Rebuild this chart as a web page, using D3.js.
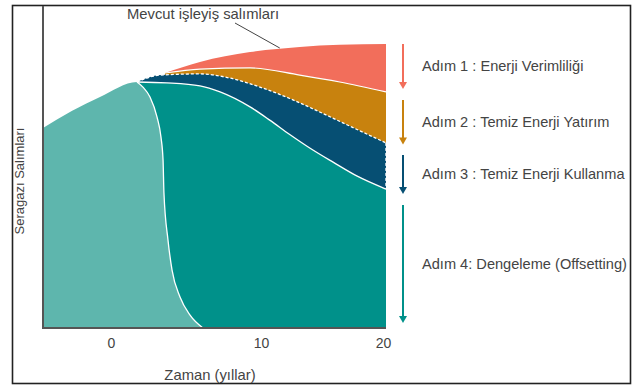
<!DOCTYPE html>
<html>
<head>
<meta charset="utf-8">
<script src="https://cdn.jsdelivr.net/npm/d3@7"></script>
<style>
  html, body { margin: 0; padding: 0; background: #fff; }
  svg { display: block; font-family: "Liberation Sans", Arial, sans-serif; }
</style>
</head>
<body>
<svg id="chart" width="636" height="387"></svg>
<script>
// Emission pathways (years, relative emission level 0–100)
const bauYears    = [-4.5, -2.6, -0.73, 1.73, 3.6, 5.93, 9.27, 13.1, 16.3, 20];
const bauValues   = [66.7, 72.3, 77.0, 82.0, 85.0, 88.7, 92.0, 93.7, 94.4, 94.7];

const effYears    = [3.6, 5.93, 9.27, 13.1, 16.3, 20];
const effValues   = [85.0, 86.3, 86.7, 84.3, 82.0, 78.7];

const investYears  = [1.73, 3.27, 5.93, 7.93, 9.93, 12.3, 14.7, 17.1, 20];
const investValues = [82.0, 84.3, 84.7, 83.3, 80.3, 76.5, 72.0, 67.3, 61.7];

const useYears    = [1.73, 3.73, 5.93, 7.27, 9.27, 10.7, 12.3, 13.9, 15.8, 17.7, 20];
const useValues   = [82.0, 81.7, 80.7, 78.7, 73.7, 69.3, 64.5, 60.0, 55.2, 50.6, 46.3];

const existYears  = [-4.5, -2.6, -0.73, 1.73, 2.13, 2.6, 3.07, 3.33, 3.47, 3.53, 3.8, 4.07, 4.6, 5.27, 6.13];
const existValues = [66.7, 72.3, 77.0, 82.0, 80.3, 77.0, 70.3, 63.7, 56.0, 45.0, 29.3, 19.3, 10.3, 4.3, 0];

const xTicks = [0, 10, 20];
const steps = [
  { label: "Adım 1 : Enerji Verimliliği",      color: "#F26E5B", from: 94.7, to: 80.0 },
  { label: "Adım 2 : Temiz Enerji Yatırım",    color: "#C8820E", from: 76.0, to: 61.5 },
  { label: "Adım 3 : Temiz Enerji Kullanma",   color: "#064F73", from: 57.7, to: 45.0 },
  { label: "Adım 4: Dengeleme (Offsetting)",   color: "#00918A", from: 41.0, to: 2.0 }
];

const svg = d3.select("#chart");

// time axis is compressed after year 10
const x = d3.scaleLinear().domain([-4.5, 0, 10, 20]).range([43, 111, 261, 386]);
const y = d3.scaleLinear().domain([0, 100]).range([328, 28]);

const pts = (xs, vs) => xs.map((d, i) => [d, vs[i]]);
const bau = pts(bauYears, bauValues);
const eff = pts(effYears, effValues);
const inv = pts(investYears, investValues);
const use = pts(useYears, useValues);
const exist = pts(existYears, existValues);

const area = d3.area().x(d => x(d[0])).y0(y(0)).y1(d => y(d[1])).curve(d3.curveMonotoneX);
const line = d3.line().x(d => x(d[0])).y(d => y(d[1])).curve(d3.curveMonotoneX);

// outer frame
svg.append("rect").attr("x", 12.5).attr("y", 5.5).attr("width", 618).attr("height", 378)
  .attr("fill", "none").attr("stroke", "#222").attr("stroke-width", 1.6);

const g = svg.append("g");
// layers painted back to front
g.append("path").datum(bau.filter(d => d[0] >= 3.6)).attr("d", area).attr("fill", "#F26E5B");
g.append("path").datum(eff).attr("d", area).attr("fill", "#C8820E");
g.append("path").datum(inv).attr("d", area).attr("fill", "#064F73");
g.append("path").datum(use).attr("d", area).attr("fill", "#00918A");
g.append("path").datum(exist).attr("d", area).attr("fill", "#5EB6AD");

// boundary lines
g.append("path").datum(eff).attr("d", line).attr("fill", "none").attr("stroke", "#fff").attr("stroke-width", 1.2);
g.append("path").datum(inv).attr("d", line).attr("fill", "none").attr("stroke", "#fff")
  .attr("stroke-width", 1.3).attr("stroke-dasharray", "3,2");
g.append("line").attr("x1", x(20) - 0.5).attr("x2", x(20) - 0.5)
  .attr("y1", y(investValues[investValues.length - 1])).attr("y2", y(useValues[useValues.length - 1]))
  .attr("stroke", "#fff").attr("stroke-width", 1).attr("stroke-dasharray", "3,2").attr("opacity", 0.7);
g.append("path").datum(use).attr("d", line).attr("fill", "none").attr("stroke", "#fff").attr("stroke-width", 1.3);
g.append("path").datum(exist.filter(d => d[0] >= 1.73)).attr("d", line).attr("fill", "none")
  .attr("stroke", "#fff").attr("stroke-width", 1.3);

// axes
svg.append("line").attr("x1", 43).attr("x2", 43).attr("y1", 6).attr("y2", 329)
  .attr("stroke", "#555").attr("stroke-width", 2);
svg.append("line").attr("x1", 42).attr("x2", x(20)).attr("y1", 328).attr("y2", 328)
  .attr("stroke", "#555").attr("stroke-width", 2);

const xAxis = d3.axisBottom(x).tickValues(xTicks).tickSize(0).tickPadding(0);
const ax = svg.append("g").attr("transform", "translate(0,338)").call(xAxis);
ax.select(".domain").remove();
ax.selectAll("text").attr("font-size", 14).attr("fill", "#444")
  .attr("font-family", "Liberation Sans, Arial, sans-serif")
  .attr("dx", d => d === 20 ? -3 : 0);

svg.append("text").attr("x", 210).attr("y", 380).attr("text-anchor", "middle")
  .attr("font-size", 14.8).attr("fill", "#444").text("Zaman (yıllar)");
svg.append("text").attr("transform", "translate(24,181) rotate(-90)").attr("text-anchor", "middle")
  .attr("font-size", 13).attr("fill", "#444").text("Seragazı Salımları");

// annotation
svg.append("text").attr("x", 203).attr("y", 19).attr("text-anchor", "middle")
  .attr("font-size", 14.8).attr("fill", "#444").text("Mevcut işleyiş salımları");
svg.append("line").attr("x1", 235).attr("y1", 23).attr("x2", x(11.5)).attr("y2", y(93) - 1)
  .attr("stroke", "#444").attr("stroke-width", 1);

// step arrows and labels
const ax0 = 403;
steps.forEach(s => {
  const y1 = y(s.from), y2 = y(s.to);
  svg.append("line").attr("x1", ax0).attr("x2", ax0).attr("y1", y1).attr("y2", y2 - 4)
    .attr("stroke", s.color).attr("stroke-width", 2);
  svg.append("path")
    .attr("d", `M${ax0 - 4},${y2 - 6} L${ax0 + 4},${y2 - 6} L${ax0},${y2 + 1} Z`)
    .attr("fill", s.color);
  svg.append("text").attr("x", 422).attr("y", (y1 + y2) / 2 + 5)
    .attr("font-size", 14.6).attr("fill", "#444").text(s.label);
});
</script>
</body>
</html>
